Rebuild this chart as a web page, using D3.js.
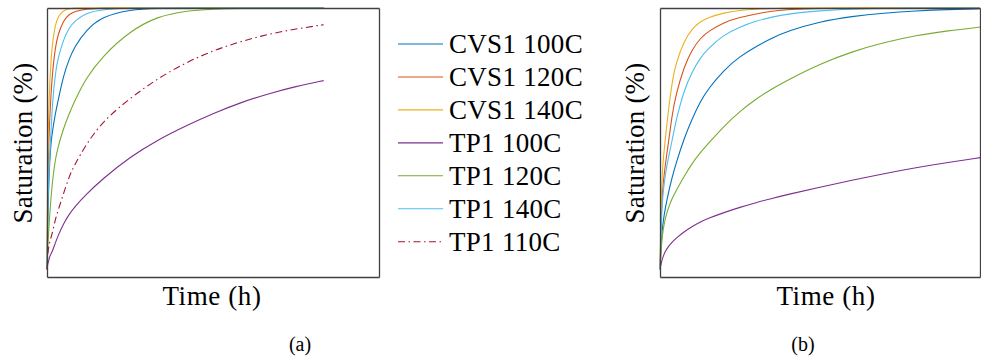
<!DOCTYPE html>
<html>
<head>
<meta charset="utf-8">
<script src="https://cdn.jsdelivr.net/npm/d3@7"></script>
<style>
  html, body { margin: 0; padding: 0; background: #fff; }
  svg { display: block; }
</style>
</head>
<body>
<script>
// ---------- data ----------
const seriesNames = ["CVS1 100C", "CVS1 120C", "CVS1 140C", "TP1 100C", "TP1 120C", "TP1 140C", "TP1 110C"];
const seriesColors = ["#0072BD", "#D95319", "#EDB120", "#7E2F8E", "#77AC30", "#4DBEEE", "#A2142F"];

// panel (a): time (h) and saturation (%)
const timeA = [0, 0.1, 0.2, 0.35, 0.5, 0.75, 1, 1.5, 2, 3, 4, 5, 7, 10, 15, 20, 25, 30, 35, 40, 45, 50];
const cvs1_100A = [0, 14, 24, 34, 42, 49, 53, 59.5, 64.5, 74.3, 80.5, 85.2, 91.4, 96.8, 99.4, 99.9, 100, 100, 100, 100, 100, 100];
const cvs1_120A = [0, 25, 38, 50, 58, 68, 75.5, 85, 90, 95.3, 97.6, 98.7, 99.6, 100, 100, 100, 100, 100, 100, 100, 100, 100];
const cvs1_140A = [0, 35, 52, 62, 71, 81, 87, 93.5, 96.8, 99.1, 99.8, 100, 100, 100, 100, 100, 100, 100, 100, 100, 100, 100];
const tp1_100A  = [0, 1.5, 2.5, 3.5, 5, 6, 7, 10, 12.8, 17.5, 21, 23.8, 28.5, 34.5, 43, 49.5, 54.8, 59.6, 63.8, 67.2, 70, 72.2];
const tp1_120A  = [0, 7, 11, 16, 21, 28, 34, 42, 47, 54, 59.5, 64.5, 73, 81.5, 91.2, 96.8, 98.9, 99.6, 99.9, 100, 100, 100];
const tp1_140A  = [0, 18, 28, 37, 44, 54, 64, 75, 81, 88, 92.5, 95, 98.1, 99.5, 100, 100, 100, 100, 100, 100, 100, 100];
const tp1_110A  = [0, 4.5, 7, 9, 10.5, 12.3, 14.2, 19, 22.5, 29, 35.5, 40, 47.5, 56.5, 65.5, 73, 79, 83.7, 87.2, 90, 92, 93.6];

// panel (b): time (h) and saturation (%)
const timeB = [0, 0.1, 0.2, 0.35, 0.5, 0.75, 1, 1.5, 2, 2.5, 3, 4, 5, 6, 7, 8, 10, 12, 14, 16, 18, 20];
const cvs1_100B = [0, 13, 18.5, 24, 28.5, 35, 40.5, 50, 57.5, 64, 69, 76.3, 81.5, 85.3, 88.5, 91.2, 94.8, 96.8, 98.1, 98.9, 99.4, 99.7];
const cvs1_120B = [0, 26, 33, 41, 47, 59, 67, 77.5, 84, 88.3, 91, 94.6, 96.4, 97.8, 98.8, 99.5, 99.9, 100, 100, 100, 100, 100];
const cvs1_140B = [0, 33, 42, 51, 59.5, 71.5, 79, 87.3, 92.1, 94.7, 96.3, 98.2, 99.1, 99.6, 99.8, 100, 100, 100, 100, 100, 100, 100];
const tp1_100B  = [0, 3, 5, 7, 8.5, 10.3, 11.8, 14.3, 16.3, 18, 19.4, 21.7, 23.7, 25.5, 27.1, 28.6, 31.4, 34.1, 36.6, 38.9, 40.9, 42.7];
const tp1_120B  = [0, 10.5, 15.5, 20, 23, 27, 30, 35.5, 40.5, 44.5, 48, 54.8, 60.5, 65.2, 69.1, 72.5, 78.6, 83.3, 86.8, 89.5, 91.3, 92.7];
const tp1_140B  = [0, 22, 30, 37, 42, 49, 57, 68.5, 75.5, 80.8, 84.5, 89.8, 92.8, 95, 96.6, 97.7, 99, 99.6, 99.9, 100, 100, 100];

// ---------- layout ----------
const W = 981, H = 358;
const FONT = "'Liberation Serif', 'Times New Roman', 'DejaVu Serif', Times, serif";
const svg = d3.select("body").append("svg").attr("width", W).attr("height", H);

const yDomain = [-3, 100];
const panelA = { x0: 47, x1: 379, y0: 277, y1: 8, xDomain: [0, 60] };
const panelB = { x0: 660, x1: 980, y0: 277, y1: 8, xDomain: [0, 20] };
const DASHDOT = "7,3.5,1.5,3.5";

function drawPanel(p, time, seriesList) {
  const x = d3.scaleLinear().domain(p.xDomain).range([p.x0, p.x1]);
  const y = d3.scaleLinear().domain(yDomain).range([p.y0, p.y1]);
  const g = svg.append("g");
  const line = d3.line().x(d => x(d[0])).y(d => y(d[1])).curve(d3.curveBasis);
  seriesList.forEach(s => {
    const pts = time.map((t, i) => [t, s.values[i]]);
    g.append("path")
      .attr("d", line(pts))
      .attr("fill", "none")
      .attr("stroke", seriesColors[s.idx])
      .attr("stroke-width", 1.1)
      .attr("stroke-dasharray", s.idx === 6 ? DASHDOT : null);
  });
  g.append("g").attr("transform", `translate(0,${p.y0})`)
    .call(d3.axisBottom(x).ticks(0).tickSize(0).tickFormat(""));
  g.append("g").attr("transform", `translate(0,${p.y1})`)
    .call(d3.axisTop(x).ticks(0).tickSize(0).tickFormat(""));
  g.append("g").attr("transform", `translate(${p.x0},0)`)
    .call(d3.axisLeft(y).ticks(0).tickSize(0).tickFormat(""));
  g.append("g").attr("transform", `translate(${p.x1},0)`)
    .call(d3.axisRight(y).ticks(0).tickSize(0).tickFormat(""));
  g.selectAll(".domain").attr("stroke", "#404040").attr("stroke-width", 1.3);
  return g;
}

drawPanel(panelA, timeA, [
  { idx: 0, values: cvs1_100A }, { idx: 1, values: cvs1_120A }, { idx: 2, values: cvs1_140A },
  { idx: 3, values: tp1_100A }, { idx: 4, values: tp1_120A }, { idx: 5, values: tp1_140A },
  { idx: 6, values: tp1_110A }
]);
drawPanel(panelB, timeB, [
  { idx: 0, values: cvs1_100B }, { idx: 1, values: cvs1_120B }, { idx: 2, values: cvs1_140B },
  { idx: 3, values: tp1_100B }, { idx: 4, values: tp1_120B }, { idx: 5, values: tp1_140B }
]);

function label(x, y, txt, size, rot, ls) {
  return svg.append("text")
    .attr("transform", `translate(${x},${y})` + (rot ? ` rotate(${rot})` : ""))
    .attr("text-anchor", "middle")
    .attr("font-family", FONT)
    .attr("font-size", size)
    .attr("letter-spacing", ls || 0)
    .attr("fill", "#000")
    .text(txt);
}

const fs = 27;
label(32, 143, "Saturation (%)", fs, -90, 0.2);
label(644, 143, "Saturation (%)", fs, -90, 0.2);
label(212, 305, "Time (h)", fs, 0, 0.6);
label(826, 305, "Time (h)", fs, 0, 0.6);
label(300, 351, "(a)", 20);
label(803, 351, "(b)", 20);

// legend
const legendY = d3.scalePoint().domain(seriesNames).range([44, 241.7]);
const leg = svg.append("g");
seriesNames.forEach((name, i) => {
  const yy = legendY(name);
  leg.append("line").attr("x1", 398).attr("x2", 443).attr("y1", yy).attr("y2", yy)
    .attr("stroke", seriesColors[i]).attr("stroke-width", 1.1)
    .attr("stroke-dasharray", i === 6 ? DASHDOT : null);
  leg.append("text").attr("x", 449).attr("y", yy + 9)
    .attr("font-family", FONT)
    .attr("font-size", fs)
    .attr("letter-spacing", 0.3)
    .attr("fill", "#000")
    .text(name);
});
</script>
</body>
</html>
